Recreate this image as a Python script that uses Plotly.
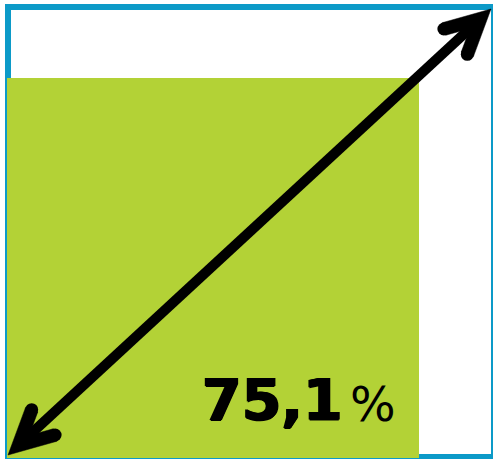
import plotly.graph_objects as go
import math

# ---- data ----
share_label = ["75,1"]
share_unit = ["%"]
share_value = [75.1]
green_width = [85.1]   # % of box width
green_height = [84.6]  # % of box height
box_extent = [0, 100]

W, H = 493, 459
BLUE = "#0C9AC8"
GREEN = "#B3D236"

# pixel <-> data mapping (box 0..100 in both axes)
X0PX, X1PX = 7, 491
Y0PX, Y1PX = 456, 7
sx = (X1PX - X0PX) / 100.0
sy = (Y0PX - Y1PX) / 100.0
xr = [(0 - X0PX) / sx, (W - X0PX) / sx]
yr = [(Y0PX - H) / sy, (Y0PX - 0) / sy]


def px2d(px, py):
    return (px - X0PX) / sx, (Y0PX - py) / sy


def d2px(x, y):
    return X0PX + x * sx, Y0PX - y * sy


def rot(vx, vy, a):
    c, s = math.cos(a), math.sin(a)
    return vx * c - vy * s, vx * s + vy * c


fig = go.Figure()

# green square
fig.add_trace(go.Bar(
    x=[green_width[0] / 2], y=[green_height[0]], width=[green_width[0]],
    base=[-0.4], marker=dict(color=GREEN, line=dict(width=0)),
    hoverinfo="skip", showlegend=False))

# double arrow corner to corner
t0x, t0y = d2px(box_extent[0], box_extent[0])
t1x, t1y = d2px(box_extent[1], box_extent[1])
t0x += 1
t0y -= 1
t1y += 2
SHAFT_W = 10
ARM_W = 13
L = 38
ANG = math.radians(27)

length = math.hypot(t1x - t0x, t1y - t0y)
ux, uy = (t1x - t0x) / length, (t1y - t0y) / length
miter = (ARM_W / 2) / math.sin(ANG)

heads = []
for (tx, ty, dx, dy) in [(t1x, t1y, -ux, -uy), (t0x, t0y, ux, uy)]:
    vx, vy = tx + dx * miter, ty + dy * miter
    ix, iy = vx + dx * miter, vy + dy * miter
    a1 = rot(dx, dy, ANG)
    a2 = rot(dx, dy, -ANG)
    o1 = rot(a1[0], a1[1], math.pi / 2)
    o2 = rot(a2[0], a2[1], -math.pi / 2)
    e1 = (vx + a1[0] * L, vy + a1[1] * L)
    e2 = (vx + a2[0] * L, vy + a2[1] * L)
    h = ARM_W / 2
    poly = [(tx, ty),
            (e1[0] + o1[0] * h, e1[1] + o1[1] * h),
            (e1[0] - o1[0] * h, e1[1] - o1[1] * h),
            (ix, iy),
            (e2[0] - o2[0] * h, e2[1] - o2[1] * h),
            (e2[0] + o2[0] * h, e2[1] + o2[1] * h),
            (tx, ty)]
    heads.append(((vx, vy), poly, (e1, e2)))

# shaft between the two head vertices
(v1, _, _), (v0, _, _) = heads
sx0, sy0 = px2d(*v0)
sx1, sy1 = px2d(*v1)
fig.add_trace(go.Scatter(x=[sx0, sx1], y=[sy0, sy1], mode="lines",
                         line=dict(color="black", width=SHAFT_W),
                         hoverinfo="skip", showlegend=False))

for (_, poly, ends) in heads:
    pd = [px2d(*p) for p in poly]
    fig.add_trace(go.Scatter(x=[p[0] for p in pd], y=[p[1] for p in pd],
                             mode="lines", fill="toself", fillcolor="black",
                             line=dict(color="black", width=0.5),
                             hoverinfo="skip", showlegend=False))
    ed = [px2d(*p) for p in ends]
    fig.add_trace(go.Scatter(x=[p[0] for p in ed], y=[p[1] for p in ed],
                             mode="markers",
                             marker=dict(color="black", size=ARM_W, line=dict(width=0)),
                             hoverinfo="skip", showlegend=False))

# border
bx0, by0 = px2d(8, 457)
bx1, by1 = px2d(494, 7)
fig.add_shape(type="rect", x0=bx0, x1=bx1, y0=by0, y1=by1,
              line=dict(color=BLUE, width=6), layer="below")

# label
tx, ty = px2d(345, 435)
fig.add_annotation(
    x=tx, y=ty, xanchor="right", yanchor="bottom", showarrow=False,
    text=f"<b>{share_label[0]}</b>",
    font=dict(family="DejaVu Sans", size=57, color="black",
              shadow="1px 0 0 #000, -1px 0 0 #000, 0 1px 0 #000"))
px_, py_ = px2d(348, 434)
fig.add_annotation(
    x=px_, y=py_, xanchor="left", yanchor="bottom", showarrow=False,
    text=share_unit[0],
    font=dict(family="DejaVu Sans", size=48, color="black"))

fig.update_layout(
    width=W, height=H, margin=dict(l=0, r=0, t=0, b=0),
    plot_bgcolor="white", paper_bgcolor="white",
    xaxis=dict(range=xr, visible=False, fixedrange=True),
    yaxis=dict(range=yr, visible=False, fixedrange=True),
    bargap=0, showlegend=False)

fig.write_html("out.html", config={"displayModeBar": False},
               post_script="document.body.style.margin='0';document.body.style.overflow='hidden';")
